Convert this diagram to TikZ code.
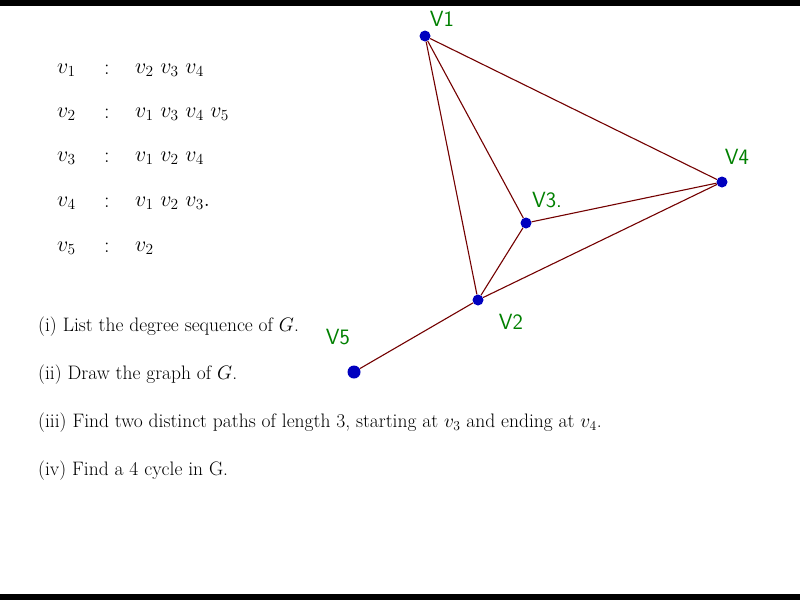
\documentclass[tikz,border=0pt]{standalone}
\usepackage{fix-cm}
\begin{document}
\begin{tikzpicture}[x=1pt,y=-1pt,
  vert/.style={circle,fill=blue!75!black,inner sep=0pt,minimum size=11pt},
  edge/.style={draw=red!45!black,line width=1.1pt},
  lab/.style={text=green!50!black,font=\fontsize{22}{24}\selectfont\sffamily},
  txt/.style={anchor=west,inner sep=0pt,font=\fontsize{19.5}{22}\selectfont},
  adj/.style={anchor=west,inner sep=0pt,font=\fontsize{22}{24}\selectfont}]
\useasboundingbox (0,0) rectangle (800,600);
\fill[black] (0,0) rectangle (800,6);
\fill[black] (0,594) rectangle (800,600);
\node[vert] (v1) at (425,36) {};
\node[vert] (v4) at (722,182) {};
\node[vert] (v3) at (526,223) {};
\node[vert] (v2) at (478,300) {};
\node[vert,minimum size=13pt] (v5) at (354,372) {};
\draw[edge] (v1)--(v4) (v1)--(v3) (v1)--(v2) (v3)--(v4) (v3)--(v2) (v2)--(v4) (v2)--(v5);
\node[lab] (l1) at (442,19) {V1};
\node[lab] (l4) at (737,157) {V4};
\node[lab] (l3) at (547,200) {V3.};
\node[lab] (l2) at (511,322) {V2};
\node[lab] (l5) at (338,337) {V5};
\foreach \y/\a/\b [count=\i] in {70/1/{v_2\ v_3\ v_4}, 114/2/{v_1\ v_3\ v_4\ v_5}, 158/3/{v_1\ v_2\ v_4}, 203/4/{v_1\ v_2\ v_3.}, 248/5/{v_2}} {
  \node[adj] (a\i) at (57,\y) {$v_{\a}$};
  \node[adj] (c\i) at (104,\y) {$:$};
  \node[adj] (b\i) at (135,\y) {$\b$};
}
\node[txt] (q1) at (38,327) {(i) List the degree sequence of $G$.};
\node[txt] (q2) at (38,375) {(ii) Draw the graph of $G$.};
\node[txt] (q3) at (38,423) {(iii) Find two distinct paths of length 3, starting at $v_3$ and ending at $v_4$.};
\node[txt] (q4) at (38,471) {(iv) Find a 4 cycle in G.};
\end{tikzpicture}
\end{document}
